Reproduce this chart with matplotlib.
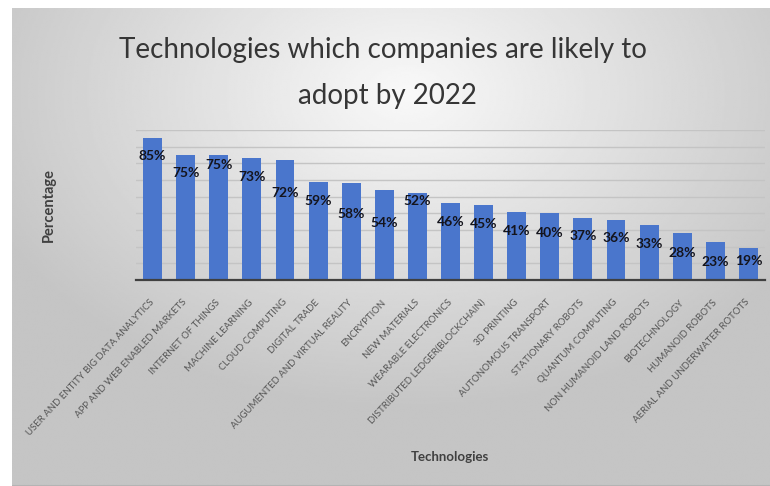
"""Bar chart: technologies which companies are likely to adopt by 2022."""
import matplotlib
matplotlib.use('Agg')
import matplotlib.pyplot as plt
import numpy as np

TECHNOLOGIES = [
    'USER AND ENTITY BIG DATA ANALYTICS', 'APP AND WEB ENABLED MARKETS',
    'INTERNET OF THINGS', 'MACHINE LEARNING', 'CLOUD COMPUTING',
    'DIGITAL TRADE', 'AUGUMENTED AND VIRTUAL REALITY', 'ENCRYPTION',
    'NEW MATERIALS', 'WEARABLE ELECTRONICS', 'DISTRIBUTED LEDGER(BLOCKCHAIN)',
    '3D PRINTING', 'AUTONOMOUS TRANSPORT', 'STATIONARY ROBOTS',
    'QUANTUM COMPUTING', 'NON HUMANOID LAND ROBOTS', 'BIOTECHNOLOGY',
    'HUMANOID ROBOTS', 'AERIAL AND UNDERWATER ROTOTS',
]
PERCENT = [85, 75, 75, 73, 72, 59, 58, 54, 52, 46, 45, 41, 40, 37, 36, 33, 28, 23, 19]

# how far (px) each value label sits below the top of its bar
LABEL_DROP = [18, 18, 10, 19, 33, 19, 31, 33, 8, 19, 19, 19, 20, 18, 18, 19, 20, 20, 13]

W, H = 770, 486
plt.rcParams['font.family'] = ['Lato', 'DejaVu Sans']

fig = plt.figure(figsize=(W / 100, H / 100), dpi=100)
fig.patch.set_facecolor('white')

# grey radial-gradient panel behind everything
bg = fig.add_axes([12 / W, 0, (W - 12) / W, (H - 8) / H], zorder=0)
gx, gy = np.meshgrid(np.linspace(0, 1, 400), np.linspace(0, 1, 260))
r = np.sqrt(((gx - 0.52) / 1.0) ** 2 + ((gy - 0.18) / 1.1) ** 2)
shade = np.clip(0.975 - 0.34 * r, 0.77, 0.975)
bg.imshow(shade, cmap='gray', vmin=0, vmax=1, aspect='auto',
          extent=[0, 1, 1, 0], interpolation='bilinear')
bg.axhline(1, color='#b4b4b4', lw=1.5)
bg.set_xlim(0, 1)
bg.set_ylim(1, 0)
bg.axis('off')

ax = fig.add_axes([136 / W, 1 - 280 / H, 629 / W, 150 / H], zorder=1)
ax.set_facecolor('none')
x = np.arange(len(PERCENT))
ax.bar(x, PERCENT, width=0.57, color='#4a76cc', zorder=2)

for i, v in enumerate(PERCENT):
    ax.annotate(f'{v}%', xy=(i, v), xytext=(0, -LABEL_DROP[i]),
                textcoords='offset pixels', ha='center', va='center',
                fontsize=10, fontweight='bold', color='#14141c', zorder=3)

ax.set_xlim(-0.5, len(PERCENT) - 0.5)
ax.set_ylim(0, 90)
ax.set_yticks(np.arange(10, 91, 10))
ax.yaxis.grid(True, color='#c4c4c4', lw=1.0, zorder=1)
ax.tick_params(axis='y', left=False, labelleft=False)
ax.tick_params(axis='x', length=0, pad=15)
ax.set_xticks(x)
ax.set_xticklabels(TECHNOLOGIES, rotation=47, ha='right', va='center',
                   rotation_mode='anchor', fontsize=6.9, color='#555555')
for side in ['left', 'right', 'top']:
    ax.spines[side].set_visible(False)
ax.spines['bottom'].set_color('#404040')
ax.spines['bottom'].set_linewidth(1.6)
ax.spines['bottom'].set_zorder(4)

fig.text(383 / W, 1 - 50 / H, 'Technologies which companies are likely to',
         ha='center', va='center', fontsize=20, color='#363636')
fig.text(387 / W, 1 - 96 / H, 'adopt by 2022',
         ha='center', va='center', fontsize=20, color='#363636')
fig.text(49 / W, 1 - 205 / H, 'Percentage', rotation=90, ha='center',
         va='center', fontsize=10.5, fontweight='bold', color='#404040')
fig.text(450 / W, 1 - 457 / H, 'Technologies', ha='center', va='center',
         fontsize=9.5, fontweight='bold', color='#404040')

fig.savefig('out.png', dpi=100)
